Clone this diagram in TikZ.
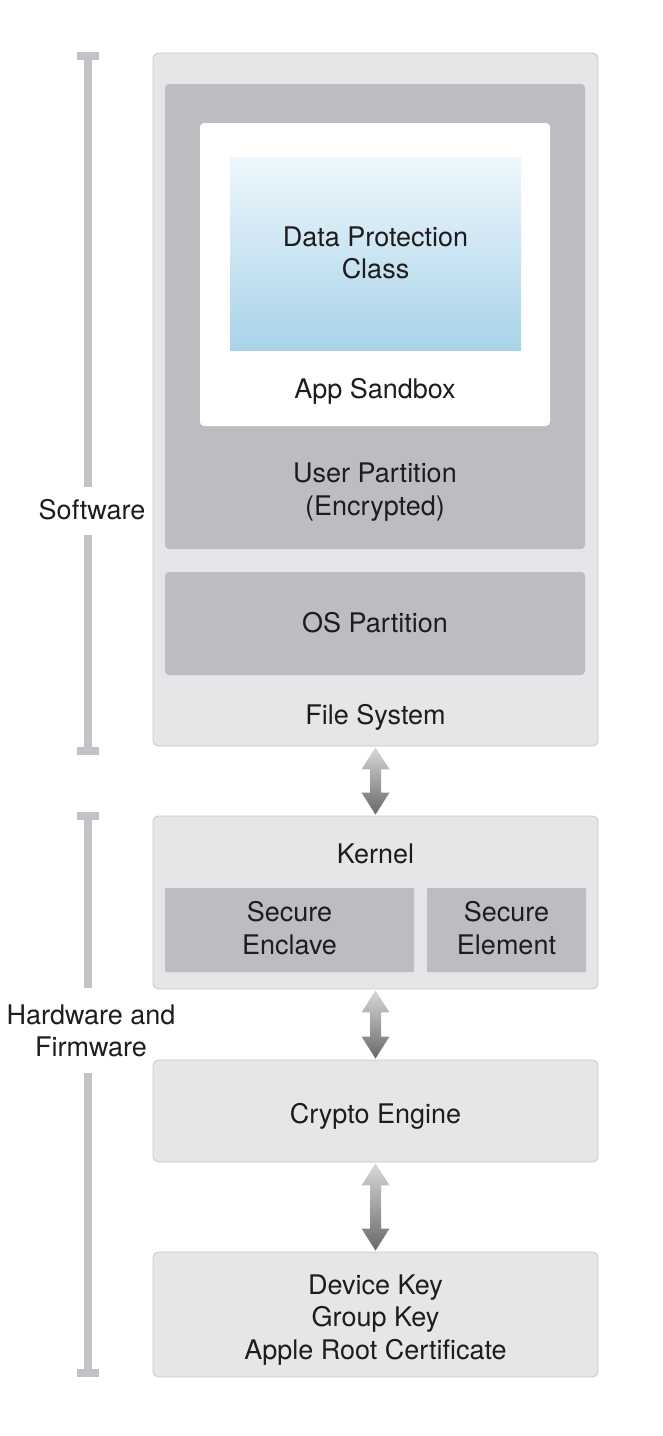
\documentclass[tikz,border=0pt]{standalone}
\usepackage{fontspec}
\setmainfont{TeX Gyre Heros}
\usetikzlibrary{calc}
\definecolor{boxfill}{HTML}{E6E6E8}
\definecolor{boxline}{HTML}{CBCBCD}
\definecolor{darkfill}{HTML}{BCBDC1}
\definecolor{barcol}{HTML}{C2C3C7}
\definecolor{txt}{HTML}{1D1D1F}
\definecolor{dptop}{HTML}{EEF7FD}
\definecolor{dpbot}{HTML}{A9D3E8}
\definecolor{arrtop}{HTML}{D8D8DA}
\definecolor{arrbot}{HTML}{69696B}
\newcommand\gradarrow[2]{%
  \path[arrowfill] let \p1=(#1.south), \p2=(#2.north) in
    (\x1,\y1-1pt) -- (\x1+14pt,\y1-23pt) -- (\x1+5.5pt,\y1-23pt)
    -- (\x1+5.5pt,\y2+23pt) -- (\x1+14pt,\y2+23pt) -- (\x1,\y2+1pt)
    -- (\x1-14pt,\y2+23pt) -- (\x1-5.5pt,\y2+23pt) -- (\x1-5.5pt,\y1-23pt)
    -- (\x1-14pt,\y1-23pt) -- cycle;}
\begin{document}
\begin{tikzpicture}[x=1pt,y=-1pt,
  lbl/.style={font=\fontsize{27}{32.5}\selectfont, text=txt, align=center, inner sep=0pt},
  outerbox/.style={draw=boxline, fill=boxfill, line width=0.9pt, rounded corners=6pt,
    inner sep=0pt, minimum width=445pt},
  darkbox/.style={fill=darkfill, rounded corners=4pt, inner sep=0pt},
  sqbox/.style={fill=darkfill, rounded corners=1pt, inner sep=0pt},
  whitebox/.style={fill=white, rounded corners=4pt, inner sep=0pt},
  dpbox/.style={top color=dptop, bottom color=dpbot, inner sep=0pt},
  arrowfill/.style={top color=arrtop, bottom color=arrbot},
  bar/.style={fill=barcol}]
\useasboundingbox[fill=white] (0,0) rectangle (663,1436);

% brackets
\fill[bar] (77,52) rectangle (99,60);
\fill[bar] (84,52) rectangle (92,487);
\fill[bar] (84,535) rectangle (92,755);
\fill[bar] (77,747) rectangle (99,755);
\fill[bar] (77,812) rectangle (99,820);
\fill[bar] (84,812) rectangle (92,988);
\fill[bar] (84,1073) rectangle (92,1377);
\fill[bar] (77,1369) rectangle (99,1377);
\node[lbl] (sw) at (92,510) {Software};
\node[lbl] (hw) at (91,1031) {Hardware and\\Firmware};

% software stack
\node[outerbox, minimum height=693pt] (fs) at (375.5,399.5) {};
\node[lbl] (fslbl) at (375.5,717) {File System};
\node[darkbox, minimum width=420pt, minimum height=465pt] (user) at (375,316.5) {};
\node[lbl] (userlbl) at (375,492) {User Partition\\(Encrypted)};
\node[whitebox, minimum width=350pt, minimum height=303pt] (app) at (375,274.5) {};
\node[lbl] (applbl) at (375,391) {App Sandbox};
\node[dpbox, minimum width=291pt, minimum height=193pt] (dp) at (375.5,253.5) {};
\node[lbl] (dplbl) at (375.5,253) {Data Protection\\Class};
\node[darkbox, minimum width=420pt, minimum height=103pt] (os) at (375,623.5) {};
\node[lbl] (oslbl) at (375,623) {OS Partition};

% hardware stack
\node[outerbox, minimum height=173pt] (kernel) at (375.5,902.5) {};
\node[lbl] (kernellbl) at (375.5,854) {Kernel};
\node[sqbox, minimum width=249pt, minimum height=84pt] (enclave) at (289.5,930) {};
\node[lbl] (enclavelbl) at (289.5,928) {Secure\\Enclave};
\node[sqbox, minimum width=159pt, minimum height=84pt] (element) at (506.5,930) {};
\node[lbl] (elementlbl) at (506.5,928) {Secure\\Element};
\node[outerbox, minimum height=102pt] (crypto) at (375.5,1111) {};
\node[lbl] (cryptolbl) at (375.5,1116) {Crypto Engine};
\node[outerbox, minimum height=125pt] (keys) at (375.5,1314.5) {};
\node[lbl] (keyslbl) at (375.5,1320) {Device Key\\Group Key\\Apple Root Certificate};

% arrows
\gradarrow{fs}{kernel}
\gradarrow{kernel}{crypto}
\gradarrow{crypto}{keys}
\end{tikzpicture}
\end{document}
